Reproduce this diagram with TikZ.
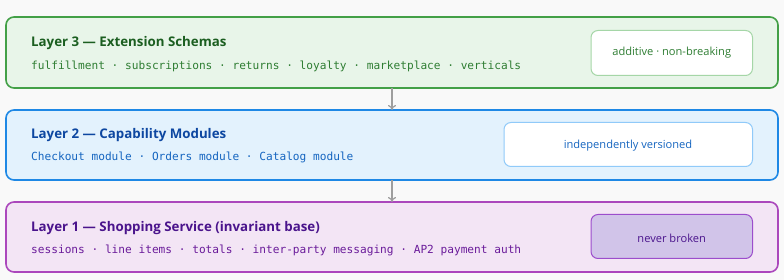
\documentclass[tikz,border=0pt]{standalone}
\usepackage{fontspec}
\setmainfont{Open Sans}
\newfontfamily\monof{DejaVu Sans Mono}
\usetikzlibrary{arrows.meta}
\definecolor{bgc}{HTML}{F9F9F9}
\definecolor{gfill}{HTML}{E8F5E9}\definecolor{gdraw}{HTML}{43A047}\definecolor{gtitle}{HTML}{1B5E20}\definecolor{gtext}{HTML}{2E7D32}\definecolor{gbdr}{HTML}{A5D6A7}
\definecolor{bfill}{HTML}{E3F2FD}\definecolor{bdraw}{HTML}{1E88E5}\definecolor{btitle}{HTML}{0D47A1}\definecolor{btext}{HTML}{1565C0}\definecolor{bbdr}{HTML}{90CAF9}
\definecolor{pfill}{HTML}{F3E5F5}\definecolor{pdraw}{HTML}{AB47BC}\definecolor{ptitle}{HTML}{4A148C}\definecolor{ptext}{HTML}{6A1B9A}\definecolor{pbfill}{HTML}{D1C4E9}\definecolor{pbdr}{HTML}{9C4DCC}
\definecolor{arr}{HTML}{9E9E9E}
\tikzset{
  layer/.style={rounded corners=8pt,line width=1.6pt},
  badge/.style={rounded corners=7pt,line width=1pt},
  ttl/.style={anchor=west,inner sep=0,font=\fontsize{13.3}{15}\selectfont\bfseries},
  mono/.style={anchor=west,inner sep=0,font=\monof\fontsize{11.15}{13}\selectfont},
  btxt/.style={inner sep=0,font=\fontsize{11.1}{13}\selectfont},
  conn/.style={draw=arr,line width=1.2pt,-{To[length=5pt,width=8pt]}}
}
\begin{document}
\begin{tikzpicture}[x=1pt,y=-1pt]
\fill[bgc] (0,0) rectangle (784,280);
\useasboundingbox (0,0) rectangle (784,280);
% layer 3
\draw[layer,fill=gfill,draw=gdraw] (6,17) rectangle (778,88);
\coordinate (l3) at (392,88);
\node[ttl,text=gtitle] (t3) at (31,43) {Layer 3 — Extension Schemas};
\node[mono,text=gtext] (m3) at (31,66) {fulfillment · subscriptions · returns · loyalty · marketplace · verticals};
\draw[badge,fill=white,draw=gbdr] (591,30.5) rectangle (752.5,75.5);
\node[btxt,text=gtext] (b3) at (671.7,53) {additive · non-breaking};
% layer 2
\draw[layer,fill=bfill,draw=bdraw] (6,110) rectangle (778,180);
\coordinate (l2t) at (392,110);
\coordinate (l2b) at (392,180);
\node[ttl,text=btitle] (t2) at (31,135) {Layer 2 — Capability Modules};
\node[mono,text=btext] (m2) at (31,157) {Checkout module · Orders module · Catalog module};
\draw[badge,fill=white,draw=bbdr] (504,122.5) rectangle (752.5,166.5);
\node[btxt,text=btext] (b2) at (628,145.5) {independently versioned};
% layer 1
\draw[layer,fill=pfill,draw=pdraw] (6,202) rectangle (778,272);
\coordinate (l1t) at (392,202);
\node[ttl,text=ptitle] (t1) at (31,228) {Layer 1 — Shopping Service (invariant base)};
\node[mono,text=ptext] (m1) at (31,250) {sessions · line items · totals · inter-party messaging · AP2 payment auth};
\draw[badge,fill=pbfill,draw=pbdr] (591,214.5) rectangle (752.5,258.5);
\node[btxt,text=ptitle] (b1) at (671.7,238) {never broken};
% connectors
\draw[conn] (l3) -- (l2t);
\draw[conn] (l2b) -- (l1t);
\end{tikzpicture}
\end{document}
